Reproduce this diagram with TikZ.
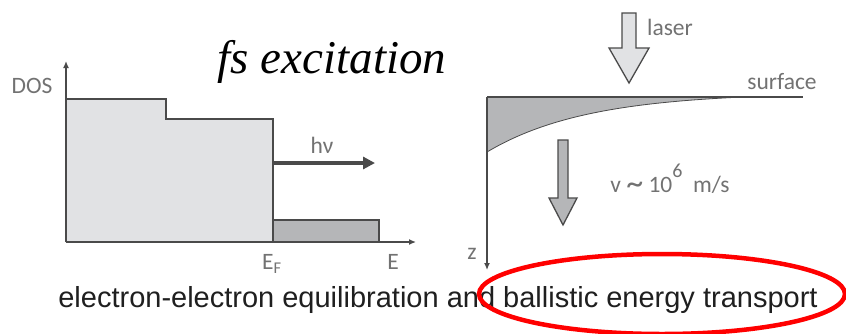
\documentclass[tikz,border=0pt]{standalone}
\usepackage{fontspec}
\setmainfont{Liberation Serif}
\setsansfont{Liberation Sans}
\newfontfamily\lblfont{Carlito}
\usetikzlibrary{arrows.meta}

\definecolor{lightfill}{HTML}{E1E2E4}
\definecolor{darkfill}{HTML}{B5B6B8}
\definecolor{linegray}{HTML}{4A4A4A}
\definecolor{textgray}{HTML}{727272}

\begin{document}
\begin{tikzpicture}[x=1pt, y=-1pt, line width=1.6pt, color=linegray,
  lbl/.style={text=textgray, font=\lblfont\fontsize{23.5}{23.5}\selectfont, inner sep=0pt},
  axis/.style={line width=1.3pt, -{Latex[length=7pt,width=6pt]}}]
  % 画布按像素取: x 向右, y 向下, 846 x 333
  % 左图: 态密度 DOS(E), E_F 以上一小块被激发
  % 右图: 表面下指数衰减的激发, z 向下, 速度箭头
  \useasboundingbox (0,0) rectangle (846,333);
  \coordinate (O) at (66,242);
  \coordinate (Ytop) at (66,61);
  \coordinate (Xend) at (416,242);
  \coordinate (EF) at (273,242);
  \coordinate (Emax) at (379,242);
  \fill[lightfill] (O) -- (66,99) -- (166,99) -- (166,119) -- (273,119) -- (EF) -- cycle;
  \fill[darkfill] (EF) rectangle (379,220);
  \draw (O) -- (66,99) -- (166,99) -- (166,119) -- (273,119) -- (EF);
  \draw (EF) -- (273,220) -- (379,220) -- (Emax);
  \draw[axis] (O) -- (Ytop);
  \draw[axis] (O) -- (Xend);
  \coordinate (hvA) at (273,163);
  \coordinate (hvB) at (375,163);
  \draw[line width=3.5pt, -{Triangle[length=12pt,width=12pt]}] (hvA) -- (hvB);
  \node[lbl] (dos) at (32,86) {DOS};
  \node[lbl] (hv) at (322,145) {hν};
  \node[lbl, anchor=north] (ef) at (272,254) {E\textsubscript{F}};
  \node[lbl, anchor=north] (e) at (393,254) {E};
  \node[font=\itshape\fontsize{47}{47}\selectfont, text=black, anchor=base] (title) at (332,73) {fs excitation};
  % 右图
  \coordinate (S) at (487,97);
  \coordinate (Zend) at (487,270);
  \coordinate (Send) at (803,97);
  \fill[darkfill] (S) -- plot[domain=0:256, samples=80] ({487+\x}, {97+59.6*(exp(-\x/100)-0.0773)}) -- cycle;
  \draw[line width=0.8pt] plot[domain=0:256, samples=80] ({487+\x}, {97+59.6*(exp(-\x/100)-0.0773)});
  \draw (S) -- (Send);
  \draw[axis] (S) -- (Zend);
  \filldraw[fill=lightfill, line width=1.3pt] (622,13) -- (636,13) -- (636,48) -- (649,48) -- (629,83) -- (609,48) -- (622,48) -- cycle;
  \filldraw[fill=darkfill, line width=1.3pt] (558,140) -- (568,140) -- (568,198) -- (577,198) -- (563,225) -- (549,198) -- (558,198) -- cycle;
  \node[lbl] (laser) at (670,27) {laser};
  \node[lbl] (surf) at (782,82) {surface};
  \node[lbl, anchor=base] (vel) at (670,192) {v\ \raisebox{-0.2ex}{\fontsize{34}{34}\selectfont\textasciitilde}\ 10\raisebox{1.3ex}{\fontsize{20}{20}\selectfont 6}\ \ m/s};
  \node[lbl] (z) at (472,254) {z};
  \node[font=\sffamily\fontsize{29}{29}\selectfont, text=black!88, anchor=base] (caption) at (438,307) {electron-electron equilibration and ballistic energy transport};
  \draw[red, line width=4.5pt] (662,294) ellipse [x radius=183pt, y radius=40pt];
\end{tikzpicture}
\end{document}
